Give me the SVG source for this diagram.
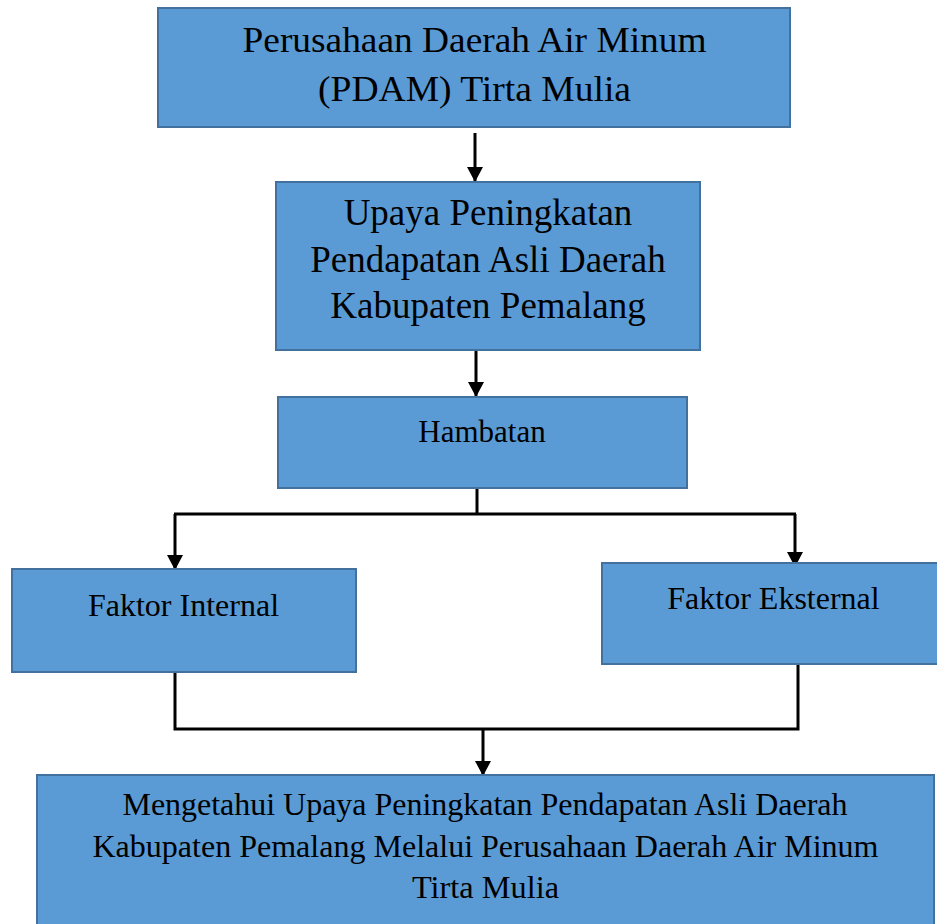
<svg xmlns="http://www.w3.org/2000/svg" width="937" height="924" viewBox="0 0 937 924">
<style>
.box{fill:#5B9BD5;stroke:#41719C;stroke-width:2}
.t{font-family:"Liberation Serif","Times New Roman",serif;fill:#000;text-anchor:middle}
.c{fill:none;stroke:#000;stroke-width:3}
</style>
<defs>
<marker id="ah" markerUnits="userSpaceOnUse" markerWidth="16" markerHeight="16" refX="14" refY="8" orient="auto">
<path d="M0,0 L15,8 L0,16 Z" fill="#000"/>
</marker>
</defs>
<rect width="937" height="924" fill="#fff"/>
<g id="connectors">
<line class="c" x1="475" y1="133" x2="475" y2="181" marker-end="url(#ah)"/>
<line class="c" x1="476" y1="350" x2="476" y2="396" marker-end="url(#ah)"/>
<polyline class="c" points="477,488 477,514"/>
<polyline class="c" points="174,514 796,514"/>
<line class="c" x1="175" y1="514" x2="175" y2="569" marker-end="url(#ah)"/>
<line class="c" x1="795" y1="514" x2="795" y2="566" marker-end="url(#ah)"/>
<polyline class="c" points="175,672 175,729 798,729 798,664"/>
<line class="c" x1="483" y1="729" x2="483" y2="775" marker-end="url(#ah)"/>
</g>
<g id="pdam">
<rect class="box" x="158" y="8" width="632" height="119"/>
<text class="t" font-size="35" x="474.5" y="52" textLength="464" lengthAdjust="spacingAndGlyphs">Perusahaan Daerah Air Minum</text>
<text class="t" font-size="35" x="474.5" y="100.5" textLength="313" lengthAdjust="spacingAndGlyphs">(PDAM) Tirta Mulia</text>
</g>
<g id="upaya">
<rect class="box" x="276" y="182" width="424" height="168"/>
<text class="t" font-size="37" x="488" y="225">Upaya Peningkatan</text>
<text class="t" font-size="37" x="488" y="271.5">Pendapatan Asli Daerah</text>
<text class="t" font-size="37" x="488" y="318">Kabupaten Pemalang</text>
</g>
<g id="hambatan">
<rect class="box" x="278" y="397" width="409" height="91"/>
<text class="t" font-size="31" x="482" y="441.5">Hambatan</text>
</g>
<g id="internal">
<rect class="box" x="12" y="569" width="344" height="103"/>
<text class="t" font-size="32" x="183.5" y="616">Faktor Internal</text>
</g>
<g id="eksternal">
<rect class="box" x="602" y="563" width="345" height="101"/>
<text class="t" font-size="32" x="773.5" y="609">Faktor Eksternal</text>
</g>
<g id="hasil">
<rect class="box" x="37" y="775" width="897" height="160"/>
<text class="t" font-size="31" x="485" y="815" textLength="725" lengthAdjust="spacingAndGlyphs">Mengetahui Upaya Peningkatan Pendapatan Asli Daerah</text>
<text class="t" font-size="31" x="485.5" y="857" textLength="786" lengthAdjust="spacingAndGlyphs">Kabupaten Pemalang Melalui Perusahaan Daerah Air Minum</text>
<text class="t" font-size="31" x="485.5" y="898" textLength="147" lengthAdjust="spacingAndGlyphs">Tirta Mulia</text>
</g>
</svg>
